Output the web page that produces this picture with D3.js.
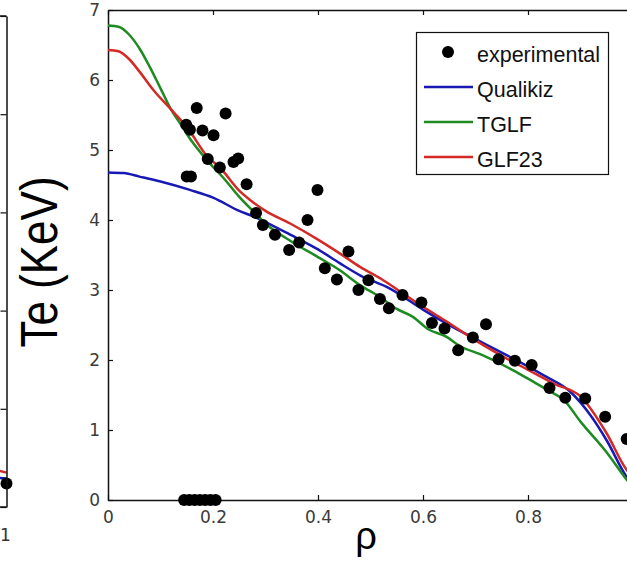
<!DOCTYPE html>
<html><head><meta charset="utf-8">
<script src="https://cdn.jsdelivr.net/npm/d3@7"></script>
<style>
html,body{margin:0;padding:0;background:#fff;}
svg{display:block;}
</style></head>
<body>
<svg id="chart" width="627" height="562"></svg>
<script>
// ---- data ----
const xTicks = [0, 0.2, 0.4, 0.6, 0.8, 1];
const yTicks = [0, 1, 2, 3, 4, 5, 6, 7];
const seriesNames = ["experimental", "Qualikiz", "TGLF", "GLF23"];

const expRho = [0.149,0.156,0.169,0.180,0.201,0.224,0.190,0.213,0.239,0.248,0.150,0.158,0.264,0.282,0.295,0.318,0.345,0.364,0.380,0.399,0.413,0.436,0.458,0.477,0.496,0.518,0.535,0.561,0.597,0.617,0.641,0.667,0.695,0.720,0.744,0.775,0.807,0.841,0.871,0.909,0.947,0.988];
const expTe  = [5.36,5.29,5.60,5.28,5.21,5.52,4.87,4.75,4.83,4.88,4.62,4.62,4.51,4.10,3.93,3.79,3.57,3.68,4.00,4.43,3.31,3.15,3.55,3.00,3.14,2.87,2.74,2.93,2.82,2.53,2.45,2.14,2.32,2.51,2.01,1.99,1.93,1.60,1.46,1.45,1.19,0.87];
const zeroRho = [0.145,0.155,0.165,0.175,0.185,0.195,0.205];
const zeroTe  = [0,0,0,0,0,0,0];

const qualRho = [0,0.03,0.06,0.10,0.156,0.20,0.25,0.277,0.30,0.347,0.40,0.442,0.48,0.537,0.60,0.645,0.70,0.772,0.83,0.88,0.92,0.95,0.988,1.0];
const qualTe  = [4.68,4.67,4.62,4.55,4.43,4.32,4.13,4.05,3.97,3.79,3.58,3.38,3.21,3.02,2.72,2.52,2.30,2.02,1.78,1.55,1.20,0.85,0.33,0.22];

const tglfRho = [0,0.02,0.04,0.06,0.08,0.10,0.12,0.14,0.16,0.18,0.20,0.22,0.25,0.28,0.30,0.35,0.40,0.44,0.48,0.52,0.55,0.58,0.61,0.645,0.67,0.71,0.77,0.81,0.84,0.868,0.90,0.95,0.988,1.0];
const tglfTe  = [6.78,6.76,6.65,6.45,6.18,5.88,5.58,5.35,5.12,4.93,4.76,4.60,4.33,4.10,3.95,3.69,3.47,3.29,3.07,2.89,2.73,2.62,2.44,2.33,2.20,2.08,1.86,1.69,1.56,1.43,1.12,0.68,0.29,0.18];

const glfRho = [0,0.02,0.04,0.06,0.086,0.12,0.15,0.19,0.213,0.25,0.27,0.30,0.347,0.40,0.442,0.48,0.52,0.56,0.60,0.645,0.70,0.772,0.80,0.85,0.90,0.95,0.988,1.0];
const glfTe  = [6.43,6.41,6.30,6.12,5.86,5.58,5.33,4.90,4.75,4.42,4.29,4.13,3.95,3.72,3.52,3.33,3.16,2.96,2.76,2.55,2.28,1.97,1.86,1.66,1.48,0.95,0.43,0.33];

// neighbouring (cropped) panel on the left
const leftTicks = [0,1,2,3,4,5];
const leftRho = [0.97, 1.0];
const leftRed = [0.40, 0.35];
const leftBlue = [0.31, 0.29];
const leftDotRho = [1.0];
const leftDotVal = [0.24];

// ---- drawing ----
const colors = {Qualikiz:"#1818b4", TGLF:"#1e8a22", GLF23:"#d42a26"};
const svg = d3.select("#chart");
const x = d3.scaleLinear().domain([0,1]).range([108,633]);
const y = d3.scaleLinear().domain([0,7]).range([500,10]);
const tickFont = "DejaVu Sans, sans-serif";

// left partial panel
const xL = d3.scaleLinear().domain([0.9,1.0]).range([-60,6.5]);
const yL = d3.scaleLinear().domain([0,5]).range([507,16]);
const gL = svg.append("g");
const lineL = d3.line().x(d=>xL(d[0])).y(d=>yL(d[1]));
gL.append("path").datum(leftRho.map((r,i)=>[r,leftRed[i]])).attr("d",lineL)
  .attr("fill","none").attr("stroke",colors.GLF23).attr("stroke-width",2.5);
gL.append("path").datum(leftRho.map((r,i)=>[r,leftBlue[i]])).attr("d",lineL)
  .attr("fill","none").attr("stroke",colors.Qualikiz).attr("stroke-width",2.5);
gL.selectAll("circle").data(leftDotRho).join("circle")
  .attr("cx",d=>xL(d)).attr("cy",(d,i)=>yL(leftDotVal[i])).attr("r",6).attr("fill","#000");
gL.append("g").attr("transform",`translate(${xL(1)},0)`)
  .call(d3.axisRight(yL).tickValues(leftTicks).tickSizeInner(-6).tickSizeOuter(0).tickFormat(""))
  .call(g=>g.select(".domain").attr("stroke","#111").attr("stroke-width",1.5))
  .call(g=>g.selectAll(".tick line").attr("stroke","#111").attr("stroke-width",1.2));
gL.append("line").attr("x1",-5).attr("x2",xL(1)).attr("y1",yL(5)).attr("y2",yL(5)).attr("stroke","#111").attr("stroke-width",1.5);
gL.append("line").attr("x1",-5).attr("x2",xL(1)).attr("y1",yL(0)).attr("y2",yL(0)).attr("stroke","#111").attr("stroke-width",1.5);
gL.append("text").attr("x",xL(1)-1).attr("y",541).attr("text-anchor","middle")
  .attr("font-family",tickFont).attr("font-size",17).attr("fill","#333").text("1");

// main axes
function styleAxis(g){
  g.select(".domain").attr("stroke","#111").attr("stroke-width",1.5);
  g.selectAll(".tick line").attr("stroke","#111").attr("stroke-width",1.2);
  g.selectAll(".tick text").attr("font-family",tickFont).attr("font-size",17).attr("fill","#3a3a3a");
}
svg.append("g").attr("transform","translate(108,0)")
  .call(d3.axisLeft(y).tickValues(yTicks).tickSizeInner(-5).tickSizeOuter(0).tickPadding(8).tickFormat(d3.format("d")))
  .call(styleAxis);
svg.append("g").attr("transform","translate(0,500)")
  .call(d3.axisBottom(x).tickValues(xTicks).tickSizeInner(-5).tickSizeOuter(0).tickPadding(11)
        .tickFormat(d=>d===0?"0":(d===1?"1":d3.format(".1f")(d))))
  .call(styleAxis);
svg.append("g").attr("transform","translate(0,10)")
  .call(d3.axisTop(x).tickValues(xTicks).tickSizeInner(-5).tickSizeOuter(0).tickFormat(""))
  .call(styleAxis);

// model curves
const line = d3.line().x(d=>x(d[0])).y(d=>y(d[1])).curve(d3.curveMonotoneX);
const curves = [
  {name:"Qualikiz", rho:qualRho, te:qualTe},
  {name:"TGLF", rho:tglfRho, te:tglfTe},
  {name:"GLF23", rho:glfRho, te:glfTe}
];
curves.forEach(c=>{
  svg.append("path").datum(c.rho.map((r,i)=>[r,c.te[i]])).attr("d",line)
    .attr("fill","none").attr("stroke",colors[c.name]).attr("stroke-width",2.5)
    .attr("stroke-linejoin","round");
});

// experimental points
svg.append("g").selectAll("circle").data(expRho.map((r,i)=>[r,expTe[i]])).join("circle")
  .attr("cx",d=>x(d[0])).attr("cy",d=>y(d[1])).attr("r",6).attr("fill","#000");
svg.append("g").selectAll("circle").data(zeroRho.map((r,i)=>[r,zeroTe[i]])).join("circle")
  .attr("cx",d=>x(d[0])).attr("cy",d=>y(d[1])).attr("r",6).attr("fill","#000");

// legend
const lg = svg.append("g");
lg.append("rect").attr("x",416.5).attr("y",32.5).attr("width",192).attr("height",142)
  .attr("fill","#fff").attr("stroke","#111").attr("stroke-width",1.2);
const rowY = [54, 89, 124, 159];
seriesNames.forEach((n,i)=>{
  if(i===0){
    lg.append("circle").attr("cx",448).attr("cy",rowY[i]-2).attr("r",6).attr("fill","#000");
  } else {
    lg.append("line").attr("x1",424).attr("x2",473).attr("y1",rowY[i]-2).attr("y2",rowY[i]-2)
      .attr("stroke",colors[n]).attr("stroke-width",2.5);
  }
  lg.append("text").attr("x",477).attr("y",rowY[i]).attr("dy","0.35em")
    .attr("font-family","Liberation Sans, Arial, sans-serif").attr("font-size",21.5).attr("fill","#111").text(n);
});

// axis labels
svg.append("text").attr("transform","translate(57,262) rotate(-90) scale(1,1.18)").attr("text-anchor","middle")
  .attr("font-family","Liberation Sans, Arial, sans-serif").attr("font-size",44).attr("fill","#000").text("Te (KeV)");
svg.append("text").attr("x",366).attr("y",549).attr("text-anchor","middle")
  .attr("font-family","Liberation Sans, Arial, sans-serif").attr("font-size",38).attr("fill","#000").text("ρ");
</script>
</body></html>
